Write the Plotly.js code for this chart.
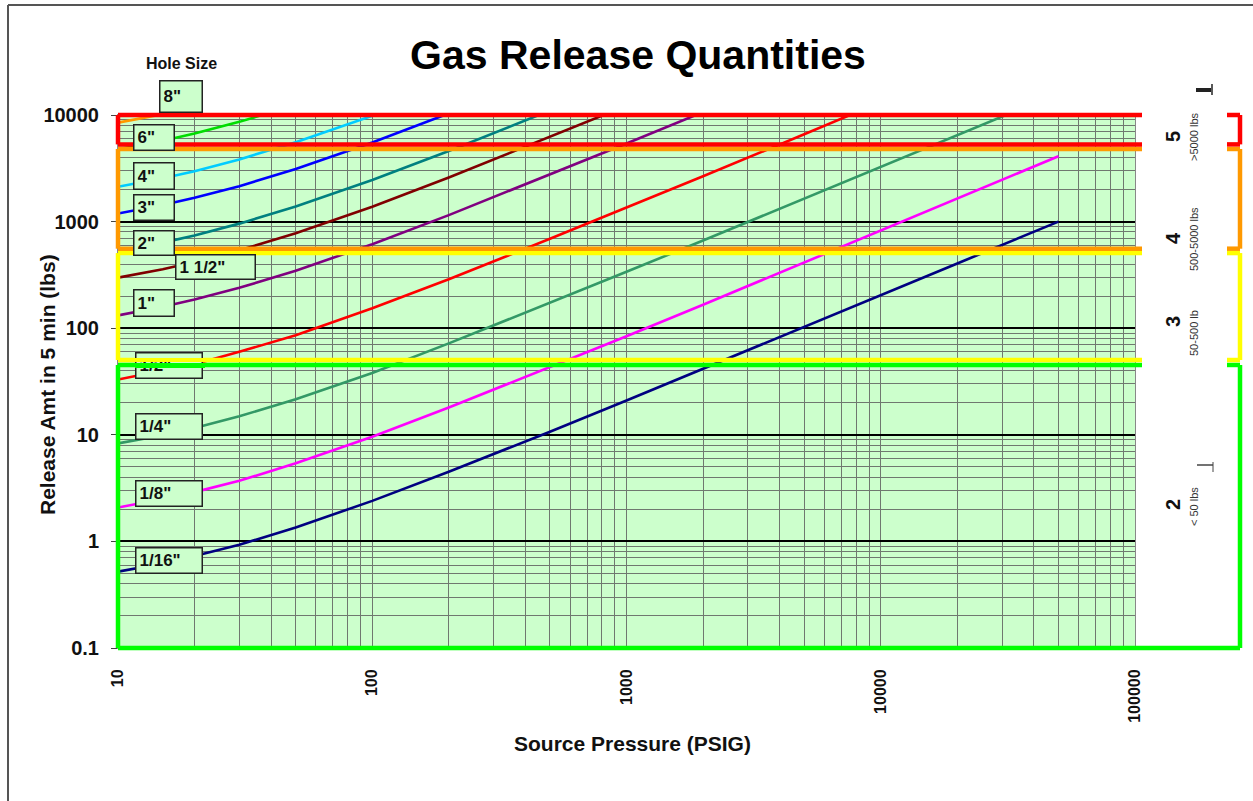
<!DOCTYPE html>
<html>
<head>
<meta charset="utf-8">
<script src="https://cdn.plot.ly/plotly-3.0.1.min.js"></script>
<style>html,body{margin:0;padding:0;background:#fff;}#chart{width:1253px;height:801px;}</style>
</head>
<body>
<div id="chart"></div>
<script>
// ---------------- DATA ----------------
const pressurePsig = [10, 15, 20, 30, 50, 100, 200, 500, 1000, 2000, 5000, 10000, 20000, 50000];
const holeSizes = ['1/16"', '1/8"', '1/4"', '1/2"', '1"', '1 1/2"', '2"', '3"', '4"', '6"', '8"'];
const release_1_16 = [0.52, 0.62, 0.73, 0.93, 1.35, 2.4, 4.5, 10.7, 21, 41.5, 103, 205, 405, 1000];
const release_1_8  = [2.08, 2.5, 2.9, 3.7, 5.4, 9.6, 18, 43, 84, 166, 412, 820, 1630, 4100];
const release_1_4  = [8.3, 9.9, 11.6, 14.9, 21.6, 38, 72, 172, 338, 665, 1650, 3300, 6500, 16000];
const release_1_2  = [33, 40, 46, 60, 86, 154, 288, 690, 1350, 2660, 6600, 13200];
const release_1    = [132, 159, 186, 239, 346, 614, 1150, 2750, 5400, 10650];
const release_1_5  = [298, 357, 418, 538, 778, 1380, 2590, 6200, 12200];
const release_2    = [530, 635, 742, 957, 1385, 2455, 4600, 11000];
const release_3    = [1190, 1430, 1670, 2150, 3120, 5520, 10350];
const release_4    = [2120, 2550, 2970, 3830, 5540, 9820, 18400];
const release_6    = [4770, 5730, 6690, 8620, 12480];
const release_8    = [8480, 10190];
const xTickVals = [10, 100, 1000, 10000, 100000];
const xTickText = ['10', '100', '1000', '10000', '100000'];
const yTickVals = [0.1, 1, 10, 100, 1000, 10000];
const yTickText = ['0.1', '1', '10', '100', '1000', '10000'];
// category bands (lbs): name, range label, lower, upper
const categoryNames  = ['2', '3', '4', '5'];
const categoryLabels = ['< 50 lbs', '50-500 lb', '500-5000 lbs', '>5000 lbs'];
const categoryLow  = [0.1, 50.3, 557, 5300];
const categoryHigh = [45.2, 507, 4800, 10000];

// ---------------- STYLE / LAYOUT ----------------
const seriesValues = [release_1_16, release_1_8, release_1_4, release_1_2, release_1, release_1_5,
                      release_2, release_3, release_4, release_6, release_8];
const seriesColors = ['#000080', '#ff00ff', '#339966', '#ff0000', '#800080', '#800000',
                      '#008080', '#0000ff', '#00ccff', '#00dd00', '#ff9900'];
const bandColors = ['#00ff00', '#ffff00', '#ff9900', '#ff0000'];

const L = 118, R = 1135, T = 115, B = 648;
const Y_RANGE = [-1, 4];
const px = v => (v - L) / (R - L);
const py = v => (B - v) / (B - T);
const yFrac = v => (Math.log10(v) - Y_RANGE[0]) / (Y_RANGE[1] - Y_RANGE[0]);
const FONT = 'Liberation Sans, Arial, sans-serif';

const traces = seriesValues.map((vals, i) => ({
  type: 'scatter', mode: 'lines', name: holeSizes[i],
  x: pressurePsig, y: vals,
  line: {color: seriesColors[i], width: 2.6},
  hoverinfo: 'x+y+name', showlegend: false
}));

const shapes = [];
const line = (x0, y0, x1, y1, color, w) => shapes.push({
  type: 'line', xref: 'paper', yref: 'paper', x0, y0, x1, y1,
  line: {color, width: w}, layer: 'above'
});
// outer frame
line(px(8), py(5), px(1253), py(5), '#555', 2);
line(px(8), py(5), px(8), py(801), '#555', 2);

const bandRight = px(1142), brX = px(1240), brStub = px(1227);
categoryNames.forEach((c, i) => {
  const lo = yFrac(categoryLow[i]), hi = yFrac(categoryHigh[i]);
  const col = bandColors[i];
  const wB = 4.5;
  line(0, lo, 0, hi, col, wB);
  line(0, hi, bandRight, hi, col, wB);
  line(brStub, hi, brX, hi, col, wB);
  if (i === 0) {
    line(0, lo, brX, lo, col, wB);
  } else {
    line(0, lo, bandRight, lo, col, wB);
    line(brStub, lo, brX, lo, col, wB);
  }
  line(brX, lo, brX, hi, col, wB);
});
// small stray marks at right
shapes.push({type: 'rect', xref: 'paper', yref: 'paper', x0: px(1196), x1: px(1211), y0: py(92), y1: py(88),
  fillcolor: '#222', line: {width: 0}, layer: 'above'});
line(px(1212), py(84), px(1212), py(95), '#222', 1.5);
line(px(1197), py(465), px(1213), py(465), '#444', 1.5);
line(px(1213), py(462), px(1213), py(472), '#444', 1);

const annotations = [];
// label boxes [left, top, right, bottom] in px
const labelBoxes = {
  '8"': [159, 83, 203, 111], '6"': [133, 126, 175, 148], '4"': [133, 164, 175, 187],
  '3"': [133, 196, 175, 218], '2"': [133, 232, 175, 253], '1 1/2"': [175, 256, 256, 277],
  '1"': [133, 291, 175, 314], '1/2"': [135, 354, 203, 376], '1/4"': [135, 415, 203, 437],
  '1/8"': [135, 482, 203, 504], '1/16"': [135, 549, 203, 571]
};
holeSizes.forEach(h => {
  const b = labelBoxes[h];
  annotations.push({
    xref: 'paper', yref: 'paper', x: px((b[0] + b[2]) / 2), y: py((b[1] + b[3]) / 2),
    xanchor: 'center', yanchor: 'middle', text: h, showarrow: false, align: 'left',
    width: b[2] - b[0] - 9, height: b[3] - b[1] - 4, borderpad: 3, borderwidth: 1.5,
    bordercolor: '#222', bgcolor: '#ccffcc',
    font: {family: FONT, size: 17, weight: 'bold', color: '#111'}
  });
});
// band lines crossing the 1/2" label box
annotations.push({xref: 'paper', yref: 'paper', x: px(169.5), y: py(360), xanchor: 'center', yanchor: 'middle',
  text: ' ', showarrow: false, width: 70, height: 4, borderpad: 0, borderwidth: 0, bgcolor: '#ffff00', font: {size: 1}});
annotations.push({xref: 'paper', yref: 'paper', x: px(169.5), y: py(365), xanchor: 'center', yanchor: 'middle',
  text: ' ', showarrow: false, width: 70, height: 5, borderpad: 0, borderwidth: 0, bgcolor: '#00ff00', font: {size: 1}});

const txt = (text, x, y, size, opts) => annotations.push(Object.assign({
  xref: 'paper', yref: 'paper', x: px(x), y: py(y), text, showarrow: false,
  xanchor: 'center', yanchor: 'middle',
  font: {family: FONT, size, color: '#111', weight: 'bold'}
}, opts || {}));

txt('Hole Size', 181, 64, 16);
txt('Release Amt in 5 min (lbs)', 47, 385, 21, {textangle: -90});
txt('Source Pressure (PSIG)', 632, 743, 21);

const catNumY = [505, 322, 238, 137];
const catLabY = [507, 333, 239, 137];
categoryNames.forEach((c, i) => {
  txt(c, 1173, catNumY[i], 20, {textangle: -90});
  txt(categoryLabels[i], 1194, catLabY[i], 11, {textangle: -90,
    font: {family: FONT, size: 11, color: '#333', weight: 'normal'}});
});

const layout = {
  width: 1253, height: 801,
  margin: {l: L, r: 1253 - R, t: T, b: 801 - B, pad: 0},
  paper_bgcolor: '#ffffff', plot_bgcolor: '#ccffcc',
  showlegend: false,
  title: {text: 'Gas Release Quantities', x: 638 / 1253, xref: 'container', xanchor: 'center',
          y: 1 - 55 / 801, yref: 'container', yanchor: 'middle',
          font: {family: FONT, size: 41, weight: 'bold', color: '#000'}},
  xaxis: {
    type: 'log', range: [1, 5], tickvals: xTickVals, ticktext: xTickText, tickangle: -90,
    ticks: '', ticklabelstandoff: 14,
    tickfont: {family: FONT, size: 16, weight: 'bold', color: '#111'},
    showgrid: true, gridcolor: '#6f786f', gridwidth: 1,
    minor: {dtick: 'D1', showgrid: true, gridcolor: '#6f786f', gridwidth: 1, ticks: ''},
    showline: true, linecolor: '#888', linewidth: 1, mirror: true, zeroline: false
  },
  yaxis: {
    type: 'log', range: Y_RANGE, tickvals: yTickVals, ticktext: yTickText,
    ticks: 'outside', ticklen: 6, tickcolor: '#444', tickwidth: 1, ticklabelstandoff: 8,
    tickfont: {family: FONT, size: 20, weight: 'bold', color: '#111'},
    showgrid: true, gridcolor: '#000000', gridwidth: 2,
    minor: {dtick: 'D1', showgrid: true, gridcolor: '#6f786f', gridwidth: 1, ticks: ''},
    showline: true, linecolor: '#888', linewidth: 1, mirror: true, zeroline: false
  },
  shapes, annotations
};

Plotly.newPlot('chart', traces, layout, {displayModeBar: false, staticPlot: true});
</script>
</body>
</html>
